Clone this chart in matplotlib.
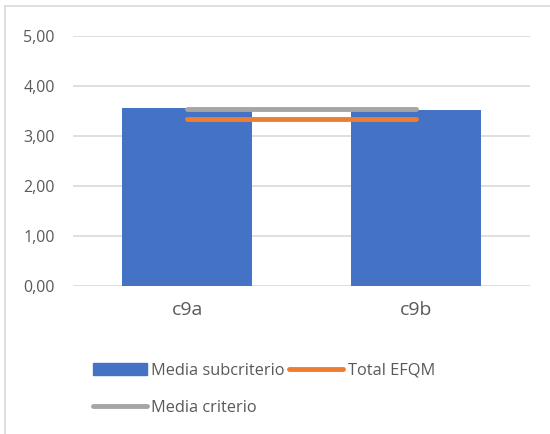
import numpy as np
import matplotlib.pyplot as plt
from matplotlib.lines import Line2D

plt.rcParams["font.family"] = ["Open Sans", "DejaVu Sans"]

categorias = ["c9a", "c9b"]
media_subcriterio = [3.57, 3.52]
total_efqm = [3.35, 3.35]
media_criterio = [3.55, 3.55]
yticks = [0, 1, 2, 3, 4, 5]

texto = "#595959"

fig = plt.figure(figsize=(5.5, 4.34), dpi=100)
ax = fig.add_axes([73 / 550, 148 / 434, 457 / 550, 250 / 434])

x = np.arange(len(categorias))
barras = ax.bar(x, media_subcriterio, width=0.57, color="#4472c4", zorder=2)
l_total, = ax.plot(x, total_efqm, color="#ed7d31", linewidth=3.5,
                   solid_capstyle="round", zorder=3)
l_crit, = ax.plot(x, media_criterio, color="#a5a5a5", linewidth=3.5,
                  solid_capstyle="round", zorder=3)

ax.set_xlim(-0.5, 1.5)
ax.set_ylim(0, 5)
ax.set_yticks(yticks)
ax.set_yticklabels([f"{v:.2f}".replace(".", ",") for v in yticks],
                   fontsize=11.5, color=texto)
ax.set_xticks(x)
ax.set_xticklabels(categorias, fontsize=14, color=texto)
ax.tick_params(axis="both", length=0)
ax.tick_params(axis="y", pad=13)
ax.tick_params(axis="x", pad=11)
ax.yaxis.grid(True, color="#d9d9d9", linewidth=1.2, zorder=0)
for s in ax.spines.values():
    s.set_visible(False)

# borde del área del gráfico
fig.add_artist(Line2D([5 / 550, 5 / 550], [0, 1 - 6 / 434], color="#d9d9d9",
                      linewidth=1.2, transform=fig.transFigure))
fig.add_artist(Line2D([5 / 550, 1], [1 - 6 / 434, 1 - 6 / 434], color="#d9d9d9",
                      linewidth=1.2, transform=fig.transFigure))

h_bar = plt.Rectangle((0, 0), 1, 1, color="#4472c4")
leg = fig.legend([h_bar, l_crit, l_total],
                 ["Media subcriterio", "Media criterio", "Total EFQM"],
                 ncol=2, loc="upper left", bbox_to_anchor=(78 / 550, 1 - 348 / 434),
                 frameon=False, fontsize=11.8, handlelength=3.3,
                 handletextpad=0.25, columnspacing=0.3, labelspacing=1.3,
                 labelcolor=texto)

fig.savefig("out.png", dpi=100)
